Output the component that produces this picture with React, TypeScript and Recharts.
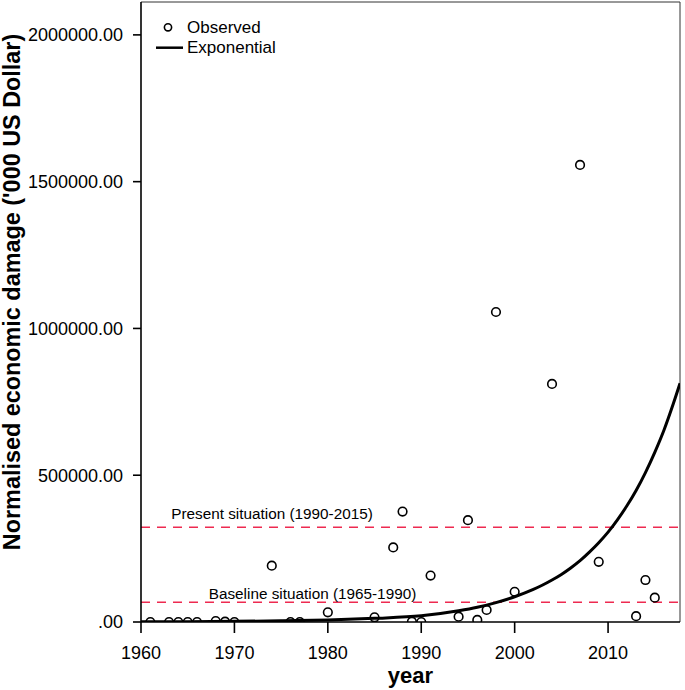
import React from "react";
import {
  ComposedChart,
  Scatter,
  Line,
  XAxis,
  YAxis,
  ReferenceLine,
  Legend,
} from "recharts";

// observed normalised damage per year ('000 US Dollar)
const observedYears = [
  1961, 1963, 1964, 1965, 1966, 1968, 1969, 1970, 1974, 1976, 1977, 1980, 1985,
  1987, 1988, 1989, 1990, 1991, 1994, 1995, 1996, 1997, 1998, 2000, 2004, 2007,
  2009, 2013, 2014, 2015,
];
const observedDamage = [
  0, 0, 0, 0, 0, 3000, 1000, 0, 192000, 0, 0, 33000, 16000, 254000, 376000, 1000,
  0, 158000, 18000, 347000, 7000, 41000, 1056000, 103000, 811000, 1557000, 205000,
  20000, 143000, 83000,
];

// exponential fit
const curveYears = [
  1960, 1965, 1970, 1975, 1980, 1985, 1990, 1994, 1996, 1998, 2000, 2002, 2003,
  2004, 2005, 2006, 2007, 2008, 2009, 2010, 2011, 2012, 2013, 2014, 2015, 2016,
  2017, 2017.7,
];
const curveDamage = [
  700, 1200, 2200, 4000, 7000, 12500, 21000, 38000, 50000, 66000, 86000, 111000,
  126000, 143000, 162000, 184000, 209000, 238000, 270000, 306000, 348000, 395000,
  448000, 509000, 578000, 655000, 745000, 813000,
];

const xTicks = [1960, 1970, 1980, 1990, 2000, 2010];
const yTicks = [0, 500000, 1000000, 1500000, 2000000];
const xDomain = [1960, 2017.7];
const yDomain = [0, 2112000];

const presentLevel = 323000;
const baselineLevel = 67000;

const observed = observedYears.map((year, i) => ({ year, damage: observedDamage[i] }));
const curve = curveYears.map((year, i) => ({ year, damage: curveDamage[i] }));

const FONT = "'Liberation Sans', Arial, Helvetica, sans-serif";
const RED = "#ee2a50";

const fmtY = (v: number) => (v === 0 ? ".00" : v.toFixed(2));

const openCircle = (props: any) => (
  <circle cx={props.cx} cy={props.cy} r={4.3} fill="none" stroke="#000" strokeWidth={1.6} />
);

const refLabel = (text: string, dx: number, dy: number) => (props: any) => {
  const vb = props.viewBox;
  return (
    <text x={vb.x + dx} y={vb.y + dy} textAnchor="middle" fontSize={15.3} fill="#000" fontFamily={FONT}>
      {text}
    </text>
  );
};

const renderXLabel = (props: any) => {
  const vb = props.viewBox;
  return (
    <text x={vb.x + vb.width / 2} y={vb.y + 61} textAnchor="middle" fontSize={22} fontWeight="bold" fill="#000" fontFamily={FONT}>
      year
    </text>
  );
};

const renderYLabel = (props: any) => {
  const vb = props.viewBox;
  const cy = vb.y + vb.height / 2 - 20;
  return (
    <text
      x={0}
      y={0}
      transform={`translate(20, ${cy}) rotate(-90)`}
      textAnchor="middle"
      fontSize={23.4}
      fontWeight="bold"
      fill="#000"
      fontFamily={FONT}
    >
      Normalised economic damage ('000 US Dollar)
    </text>
  );
};

const renderLegend = () => (
  <svg width={140} height={46} style={{ display: "block" }}>
    <circle cx={18} cy={13.3} r={3.6} fill="none" stroke="#000" strokeWidth={1.6} />
    <text x={37} y={19.3} fontSize={17} fontFamily={FONT} fill="#000">
      Observed
    </text>
    <line x1={6} x2={33} y1={33.7} y2={33.7} stroke="#000" strokeWidth={2.5} />
    <text x={37} y={39.3} fontSize={17} fontFamily={FONT} fill="#000">
      Exponential
    </text>
  </svg>
);

export default function App() {
  return (
    <div style={{ position: "absolute", left: 0, top: 0, width: 685, height: 690, background: "#fff", fontFamily: FONT }}>
      <ComposedChart width={685} height={690} margin={{ top: 2, right: 5, bottom: 28, left: 0 }}>
        <XAxis
          type="number"
          dataKey="year"
          domain={xDomain}
          ticks={xTicks}
          allowDataOverflow
          height={40}
          tickSize={11}
          tickMargin={13}
          stroke="#000"
          strokeWidth={1.6}
          tick={{ fill: "#000", fontSize: 18, fontFamily: FONT }}
          label={renderXLabel}
        />
        <YAxis
          type="number"
          dataKey="damage"
          domain={yDomain}
          ticks={yTicks}
          allowDataOverflow
          width={141}
          tickSize={8}
          tickMargin={10}
          tickFormatter={fmtY}
          stroke="#000"
          strokeWidth={1.6}
          tick={{ fill: "#000", fontSize: 18, fontFamily: FONT }}
          label={renderYLabel}
        />
        <ReferenceLine y={yDomain[1]} stroke="#333" strokeWidth={1} />
        <ReferenceLine x={xDomain[1]} stroke="#333" strokeWidth={1} />
        <ReferenceLine
          y={presentLevel}
          stroke={RED}
          strokeWidth={1.5}
          strokeDasharray="9 7"
          label={refLabel("Present situation (1990-2015)", 131, -8.5)}
        />
        <ReferenceLine
          y={baselineLevel}
          stroke={RED}
          strokeWidth={1.5}
          strokeDasharray="9 7"
          label={refLabel("Baseline situation (1965-1990)", 171.5, -3)}
        />
        <Line
          data={curve}
          dataKey="damage"
          name="Exponential"
          type="monotone"
          stroke="#000"
          strokeWidth={3}
          dot={false}
          activeDot={false}
          isAnimationActive={false}
        />
        <Scatter
          data={observed}
          dataKey="damage"
          name="Observed"
          shape={openCircle}
          isAnimationActive={false}
        />
        <Legend
          layout="vertical"
          align="center"
          verticalAlign="middle"
          wrapperStyle={{ left: 150, top: 14, width: 140, height: 46 }}
          content={renderLegend}
        />
      </ComposedChart>
    </div>
  );
}
